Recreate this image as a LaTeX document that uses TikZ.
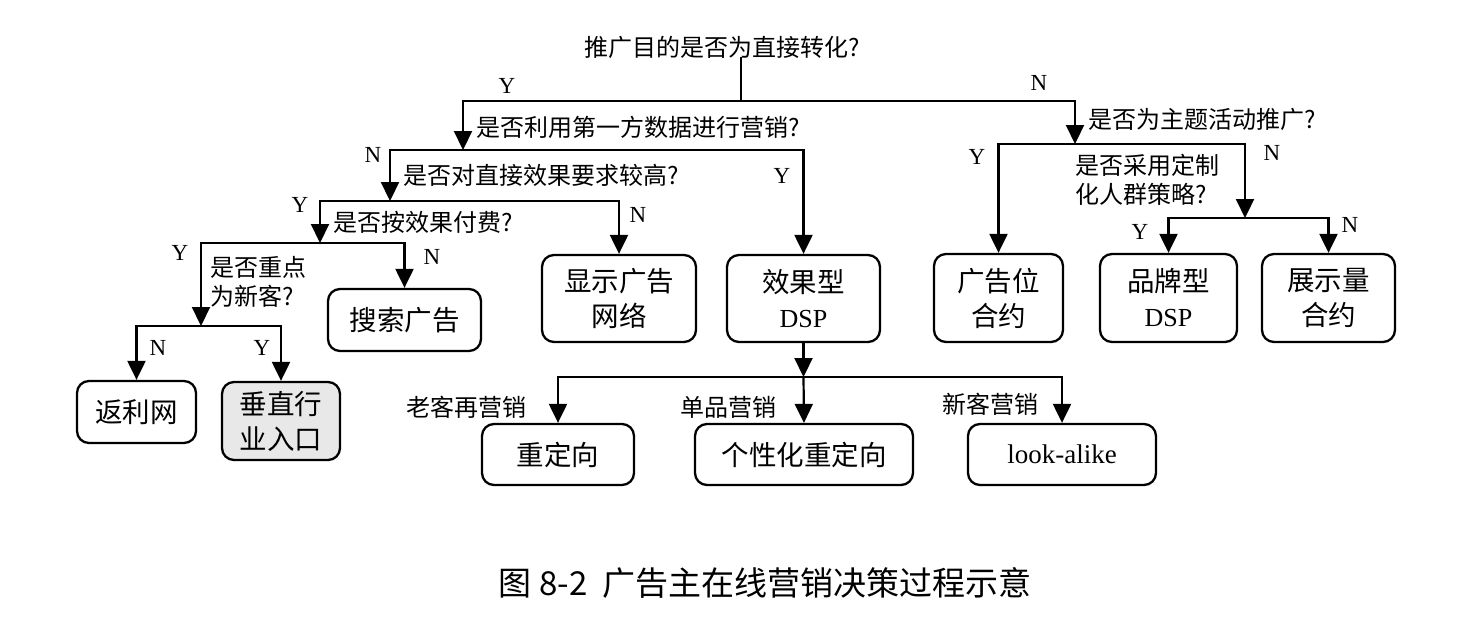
\documentclass[tikz,border=0pt]{standalone}
\usepackage{fontspec}
\setmainfont{Liberation Serif}
\newfontfamily\cjk{Noto Sans CJK SC}
\usetikzlibrary{arrows.meta}
\begin{document}
\begin{tikzpicture}[x=1pt,y=-1pt,
  line/.style={line width=2.2pt,line cap=rect},
  arr/.style={line width=2.2pt,-{Triangle[length=19pt,width=18pt]}},
  box/.style={draw,line width=2.3pt,rounded corners=12pt,align=center,inner sep=0pt,font=\cjk\fontsize{27.5}{35}\selectfont},
  q/.style={anchor=west,inner sep=0pt,align=left,font=\cjk\fontsize{24}{29}\selectfont},
  yn/.style={inner sep=0pt,font=\fontsize{23}{23}\selectfont},
]
\path[use as bounding box,fill=white] (0,0) rectangle (1470,616);

% questions
\node[q,anchor=center] (q0) at (722,47) {推广目的是否为直接转化?};
\node[q] (q1) at (476,127) {是否利用第一方数据进行营销?};
\node[q] (q2) at (403,175) {是否对直接效果要求较高?};
\node[q] (q3) at (333,222) {是否按效果付费?};
\node[q] (q4) at (210,282) {是否重点\\为新客?};
\node[q] (q5) at (1088,119) {是否为主题活动推广?};
\node[q] (q6) at (1075,180) {是否采用定制\\化人群策略?};

% boxes
\node[box,minimum width=119pt,minimum height=62pt] (fanli) at (136.5,412) {返利网};
\node[box,fill=black!9,minimum width=118pt,minimum height=78pt] (chuizhi) at (281,421) {垂直行\\业入口};
\node[box,minimum width=153pt,minimum height=62pt] (sousuo) at (404.5,320) {搜索广告};
\node[box,minimum width=154pt,minimum height=87pt] (xianshi) at (619,298.5) {显示广告\\网络};
\node[box,minimum width=153pt,minimum height=87pt] (xiaoguo) at (803.5,298.5) {效果型\\{\rmfamily\fontsize{26}{35}\selectfont DSP}};
\node[box,minimum width=129pt,minimum height=88pt] (ggw) at (998.5,298) {广告位\\合约};
\node[box,minimum width=137pt,minimum height=88pt] (pinpai) at (1168.5,298) {品牌型\\{\rmfamily\fontsize{26}{35}\selectfont DSP}};
\node[box,minimum width=133pt,minimum height=88pt] (zhanshi) at (1328.5,298) {展示量\\合约};
\node[box,minimum width=152pt,minimum height=61pt] (chongding) at (558,454.5) {重定向};
\node[box,minimum width=218pt,minimum height=61pt] (gexing) at (804,454.5) {个性化重定向};
\node[box,minimum width=188pt,minimum height=61pt,font=\rmfamily\fontsize{27}{30}\selectfont] (lookalike) at (1062,454.5) {look-alike};

% Y/N labels
\node[yn] (y1) at (507,86) {Y};
\node[yn] (n1) at (1039,83) {N};
\node[yn] (n2) at (373,155) {N};
\node[yn] (y2) at (782,176) {Y};
\node[yn] (y3) at (300,205) {Y};
\node[yn] (n3) at (638,215) {N};
\node[yn] (y4) at (180,253) {Y};
\node[yn] (n4) at (432,257) {N};
\node[yn] (n5) at (158,348) {N};
\node[yn] (y5) at (262,348) {Y};
\node[yn] (y6) at (977,157) {Y};
\node[yn] (n6) at (1272,153) {N};
\node[yn] (y7) at (1140,232) {Y};
\node[yn] (n7) at (1350,225) {N};

% branch labels
\node[q,anchor=center] (lk) at (466,407) {老客再营销};
\node[q,anchor=center] (dp) at (728,407) {单品营销};
\node[q,anchor=center] (xk) at (990,404) {新客营销};

% caption
\node[font=\cjk\fontsize{33}{33}\selectfont,inner sep=0pt] (cap) at (765,583) {图 8-2\ \ 广告主在线营销决策过程示意};

% connectors
\coordinate (j0) at (741,101);
\coordinate (l1) at (463,101);
\coordinate (r1) at (1075,101);
\draw[line] (q0.south -| j0) -- (j0);
\draw[line] (l1) -- (r1);

\coordinate (l2c) at (463,150);
\coordinate (l2a) at (390,150);
\coordinate (l2b) at (803.5,150);
\draw[arr] (l1) -- (l2c);
\draw[line] (l2a) -- (l2b);
\draw[arr] (l2b) -- (xiaoguo.north);

\coordinate (l3c) at (390,201);
\coordinate (l3a) at (320,201);
\coordinate (l3b) at (619,201);
\draw[arr] (l2a) -- (l3c);
\draw[line] (l3a) -- (l3b);
\draw[arr] (l3b) -- (xianshi.north);

\coordinate (l4c) at (320,243);
\coordinate (l4a) at (201,243);
\coordinate (l4b) at (404.5,243);
\draw[arr] (l3a) -- (l4c);
\draw[line] (l4a) -- (l4b);
\draw[arr] (l4b) -- (sousuo.north);

\coordinate (l5c) at (201,326);
\coordinate (l5a) at (136.5,326);
\coordinate (l5b) at (281,326);
\draw[arr] (l4a) -- (l5c);
\draw[line] (l5a) -- (l5b);
\draw[arr] (l5a) -- (fanli.north);
\draw[arr] (l5b) -- (chuizhi.north);

\coordinate (r2c) at (1075,144);
\coordinate (r2a) at (998.5,144);
\coordinate (r2b) at (1245,144);
\draw[arr] (r1) -- (r2c);
\draw[line] (r2a) -- (r2b);
\draw[arr] (r2a) -- (ggw.north);

\coordinate (r3c) at (1245,218);
\coordinate (r3a) at (1168.5,218);
\coordinate (r3b) at (1328.5,218);
\draw[arr] (r2b) -- (r3c);
\draw[line] (r3a) -- (r3b);
\draw[arr] (r3a) -- (pinpai.north);
\draw[arr] (r3b) -- (zhanshi.north);

\coordinate (d0) at (803.5,377);
\coordinate (da) at (558,377);
\coordinate (db) at (1062,377);
\draw[arr] (xiaoguo.south) -- (d0);
\draw[line] (da) -- (db);
\draw[arr] (da) -- (chongding.north);
\draw[arr] (d0) -- (gexing.north);
\draw[arr] (db) -- (lookalike.north);
\end{tikzpicture}
\end{document}
